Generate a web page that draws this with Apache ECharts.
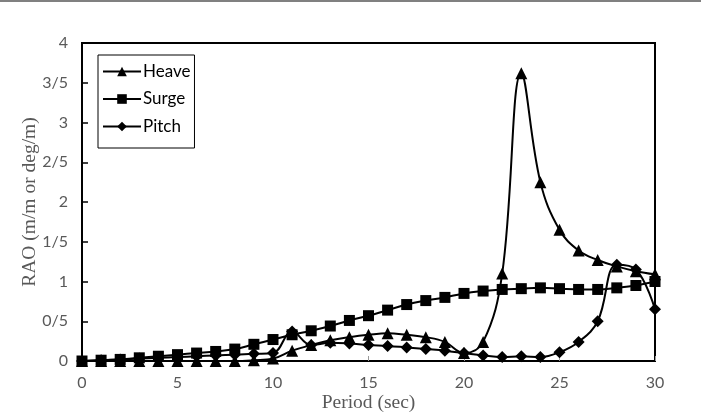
<!DOCTYPE html>
<html>
<head>
<meta charset="utf-8">
<script src="https://cdn.jsdelivr.net/npm/echarts@6/dist/echarts.min.js"></script>
<style>
  html, body { margin: 0; padding: 0; background: #fff; }
  #chart { width: 701px; height: 412px; }
</style>
</head>
<body>
<div id="chart"></div>
<script>
  // period (sec)
  const periods = [0, 1, 2, 3, 4, 5, 6, 7, 8, 9, 10, 11, 12, 13, 14, 15, 16, 17, 18, 19, 20, 21, 22, 23, 24, 25, 26, 27, 28, 29, 30];
  // RAO values
  const heave = [0, 0, 0, 0, 0, 0, 0, 0, 0, 0.01, 0.03, 0.13, 0.2, 0.26, 0.3, 0.33, 0.35, 0.33, 0.3, 0.24, 0.1, 0.24, 1.1, 3.62, 2.25, 1.65, 1.39, 1.27, 1.19, 1.13, 1.09];
  const surge = [0, 0.01, 0.02, 0.04, 0.06, 0.08, 0.1, 0.12, 0.15, 0.21, 0.27, 0.33, 0.38, 0.44, 0.51, 0.57, 0.64, 0.71, 0.76, 0.8, 0.85, 0.88, 0.9, 0.91, 0.92, 0.91, 0.9, 0.9, 0.92, 0.95, 1.0];
  const pitch = [0, 0.01, 0.02, 0.03, 0.04, 0.05, 0.06, 0.07, 0.08, 0.09, 0.1, 0.37, 0.2, 0.23, 0.22, 0.2, 0.19, 0.17, 0.15, 0.13, 0.1, 0.07, 0.05, 0.06, 0.05, 0.11, 0.24, 0.5, 1.21, 1.15, 0.65];

  const seriesNames = ['Heave', 'Surge', 'Pitch'];
  const diamond = 'path://M0,-1L1,0L0,1L-1,0Z';

  const pairs = arr => periods.map((p, i) => [p, arr[i]]);

  const lineSeries = (name, data, symbol, size) => ({
    name: name,
    type: 'line',
    data: pairs(data),
    smooth: 0.4,
    symbol: symbol,
    symbolSize: size,
    showAllSymbol: true,
    lineStyle: { color: '#000', width: 2 },
    itemStyle: { color: '#000', borderColor: '#000', borderWidth: 0 },
    emphasis: { disabled: true }
  });

  const tickFont = { color: '#595959', fontSize: 16, fontFamily: 'Lato' };
  const nameFont = { color: '#595959', fontSize: 19.5, fontFamily: 'Liberation Serif' };

  const myChart = echarts.init(document.getElementById('chart'), null, { renderer: 'canvas' });
  myChart.setOption({
    animation: false,
    backgroundColor: '#fff',
    graphic: [{
      type: 'rect',
      shape: { x: 0, y: 0, width: 701, height: 2 },
      style: { fill: '#808080' }
    }],
    grid: {
      left: 82, right: 46, top: 43, bottom: 51,
      containLabel: false,
      outerBoundsMode: 'none',
      show: true, borderColor: '#000', borderWidth: 2, backgroundColor: 'transparent'
    },
    legend: {
      data: seriesNames,
      orient: 'vertical',
      left: 98, top: 55,
      itemWidth: 38, itemHeight: 12,
      itemGap: 10.5,
      borderColor: '#000', borderWidth: 1,
      padding: [8, 4, 13, 4],
      textStyle: { color: '#000', fontSize: 17, fontFamily: 'Lato', padding: [0, 0, 0, -3] }
    },
    xAxis: {
      type: 'value',
      min: 0, max: 30, interval: 5,
      name: 'Period (sec)',
      nameLocation: 'middle',
      nameGap: 32,
      nameMoveOverlap: false,
      nameTextStyle: nameFont,
      axisLine: { show: true, lineStyle: { color: '#000', width: 2 } },
      axisTick: { show: true, inside: true, length: 5, lineStyle: { color: '#999' } },
      axisLabel: Object.assign({ margin: 14 }, tickFont),
      splitLine: { show: false }
    },
    yAxis: {
      type: 'value',
      min: 0, max: 4, interval: 0.5,
      name: 'RAO (m/m or deg/m)',
      nameLocation: 'middle',
      nameGap: 42,
      nameMoveOverlap: false,
      nameTextStyle: nameFont,
      axisLine: { show: true, lineStyle: { color: '#000', width: 2 } },
      axisTick: { show: true, inside: true, length: 6, lineStyle: { color: '#000', width: 1.5 } },
      axisLabel: Object.assign({
        margin: 14,
        formatter: v => String(v).replace('.', '/')
      }, tickFont),
      splitLine: { show: false }
    },
    series: [
      lineSeries('Heave', heave, 'triangle', 12),
      lineSeries('Surge', surge, 'rect', 11),
      lineSeries('Pitch', pitch, diamond, 12)
    ]
  });
</script>
</body>
</html>
